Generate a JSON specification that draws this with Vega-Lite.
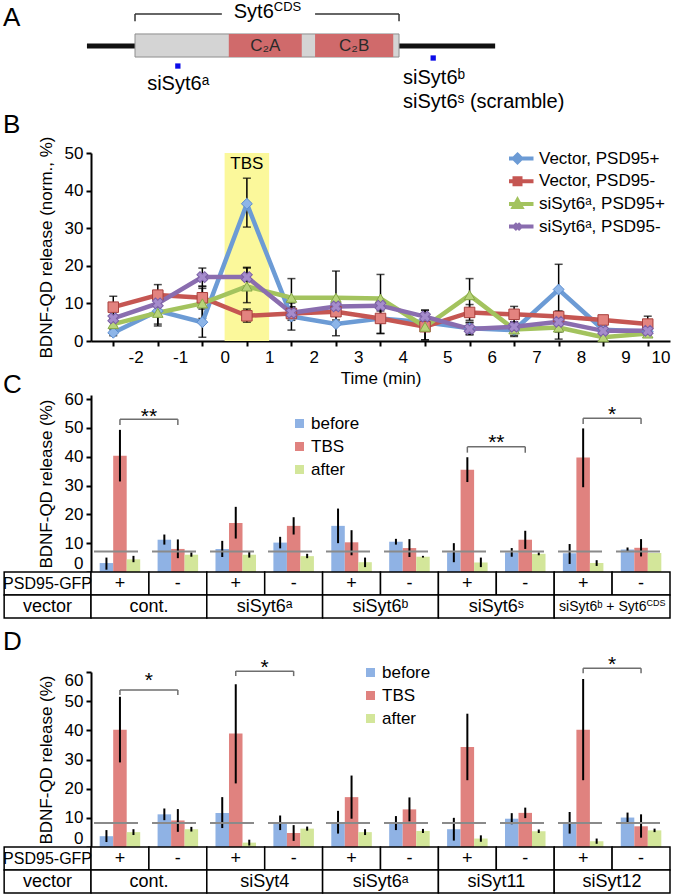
{
"$schema": "https://vega.github.io/schema/vega-lite/v6.json",
"background": "white",
"padding": {"left": 3, "top": 0, "right": 0, "bottom": 0},
"autosize": {"type": "pad"},
"bounds": "flush",
"spacing": 54,
"resolve": {"scale": {"color": "independent", "shape": "independent", "stroke": "independent"}, "legend": {"color": "independent", "shape": "independent", "stroke": "independent"}},
"config": {
 "font": "Liberation Sans",
 "view": {"stroke": null},
 "axis": {"grid": false, "domainColor": "black", "domainWidth": 2, "tickColor": "black", "tickWidth": 2, "tickSize": 5, "labelColor": "black", "labelFontSize": 17, "labelFont": "Liberation Sans", "titleFont": "Liberation Sans", "titleFontSize": 17, "titleFontWeight": "normal", "titleColor": "black", "labelPadding": 3, "labelOverlap": false},
 "axisY": {"titlePadding": 9},
 "axisX": {"titlePadding": 5},
 "title": {"fontSize": 26, "fontWeight": "normal", "anchor": "start", "frame": "group", "dx": -88, "color": "black", "font": "Liberation Sans"},
 "legend": {"labelFontSize": 17, "labelColor": "black", "labelFont": "Liberation Sans"},
 "text": {"font": "Liberation Sans", "color": "black"}
},
"datasets": {
 "adata": [
  {"k": "line", "x": -0.7, "x2": 69.8, "y": 5.35, "y2": 5.35},
  {"k": "box", "x": 7.6, "x2": 53.2, "y": 4.24, "y2": 6.57},
  {"k": "dom", "x": 23.8, "x2": 36.4, "y": 4.24, "y2": 6.57, "xm": 30.1, "ym": 5.4, "t": "C₂A"},
  {"k": "dom", "x": 38.7, "x2": 52.2, "y": 4.24, "y2": 6.57, "xm": 45.45, "ym": 5.4, "t": "C₂B"},
  {"k": "br", "x": 7.6, "x2": 22.6, "y": 8.59, "y2": 8.59},
  {"k": "br", "x": 38.7, "x2": 53.2, "y": 8.59, "y2": 8.59},
  {"k": "br", "x": 7.6, "x2": 7.6, "y": 7.85, "y2": 8.59},
  {"k": "br", "x": 53.2, "x2": 53.2, "y": 7.85, "y2": 8.59},
  {"k": "cds", "xm": 31.57, "ym": 8.8, "t": "Syt6", "sup": "CDS"},
  {"k": "site", "x": 15.0, "y": 3.33},
  {"k": "site", "x": 59.1, "y": 4.14},
  {"k": "lab", "x": 9.7, "y": 0.91, "t": "siSyt6ᵃ"},
  {"k": "lab", "x": 53.9, "y": 1.52, "t": "siSyt6ᵇ"},
  {"k": "lab", "x": 53.9, "y": -0.91, "t": "siSyt6ˢ (scramble)"}
 ],
 "bdata": [
  {"s": "Vector, PSD95+", "t": -2.5, "v": 2.2, "lo": 1.4, "hi": 3.0},
  {"s": "Vector, PSD95+", "t": -1.5, "v": 8.0, "lo": 4.0, "hi": 12.0},
  {"s": "Vector, PSD95+", "t": -0.5, "v": 5.0, "lo": 1.0, "hi": 9.0},
  {"s": "Vector, PSD95+", "t": 0.5, "v": 36.5, "lo": 30.3, "hi": 43.3},
  {"s": "Vector, PSD95+", "t": 1.5, "v": 6.5, "lo": 2.9, "hi": 10.1},
  {"s": "Vector, PSD95+", "t": 2.5, "v": 4.5, "lo": 1.4, "hi": 7.6},
  {"s": "Vector, PSD95+", "t": 3.5, "v": 6.0, "lo": 2.0, "hi": 10.0},
  {"s": "Vector, PSD95+", "t": 4.5, "v": 5.0, "lo": 3.0, "hi": 7.0},
  {"s": "Vector, PSD95+", "t": 5.5, "v": 3.4, "lo": 1.8, "hi": 5.0},
  {"s": "Vector, PSD95+", "t": 6.5, "v": 2.9, "lo": 1.5, "hi": 4.3},
  {"s": "Vector, PSD95+", "t": 7.5, "v": 13.7, "lo": 0.5, "hi": 20.4},
  {"s": "Vector, PSD95+", "t": 8.5, "v": 3.0, "lo": 2.0, "hi": 4.0},
  {"s": "Vector, PSD95+", "t": 9.5, "v": 2.5, "lo": 1.5, "hi": 3.5},
  {"s": "Vector, PSD95-", "t": -2.5, "v": 9.0, "lo": 6.0, "hi": 11.9},
  {"s": "Vector, PSD95-", "t": -1.5, "v": 12.2, "lo": 9.4, "hi": 15.0},
  {"s": "Vector, PSD95-", "t": -0.5, "v": 11.5, "lo": 8.5, "hi": 14.5},
  {"s": "Vector, PSD95-", "t": 0.5, "v": 6.7, "lo": 5.0, "hi": 8.5},
  {"s": "Vector, PSD95-", "t": 1.5, "v": 7.3, "lo": 5.5, "hi": 9.1},
  {"s": "Vector, PSD95-", "t": 2.5, "v": 7.8, "lo": 5.6, "hi": 10.0},
  {"s": "Vector, PSD95-", "t": 3.5, "v": 6.0, "lo": 2.0, "hi": 10.0},
  {"s": "Vector, PSD95-", "t": 4.5, "v": 3.8, "lo": 0.3, "hi": 7.3},
  {"s": "Vector, PSD95-", "t": 5.5, "v": 7.6, "lo": 5.5, "hi": 9.7},
  {"s": "Vector, PSD95-", "t": 6.5, "v": 7.1, "lo": 5.0, "hi": 9.2},
  {"s": "Vector, PSD95-", "t": 7.5, "v": 6.5, "lo": 5.0, "hi": 8.0},
  {"s": "Vector, PSD95-", "t": 8.5, "v": 5.6, "lo": 4.5, "hi": 6.7},
  {"s": "Vector, PSD95-", "t": 9.5, "v": 4.5, "lo": 3.3, "hi": 6.6},
  {"s": "siSyt6ᵃ, PSD95+", "t": -2.5, "v": 4.5, "lo": 3.5, "hi": 5.5},
  {"s": "siSyt6ᵃ, PSD95+", "t": -1.5, "v": 7.5, "lo": 4.5, "hi": 10.5},
  {"s": "siSyt6ᵃ, PSD95+", "t": -0.5, "v": 10.0, "lo": 6.0, "hi": 14.0},
  {"s": "siSyt6ᵃ, PSD95+", "t": 0.5, "v": 14.5, "lo": 10.2, "hi": 19.6},
  {"s": "siSyt6ᵃ, PSD95+", "t": 1.5, "v": 11.5, "lo": 6.4, "hi": 16.6},
  {"s": "siSyt6ᵃ, PSD95+", "t": 2.5, "v": 11.5, "lo": 4.4, "hi": 18.6},
  {"s": "siSyt6ᵃ, PSD95+", "t": 3.5, "v": 11.3, "lo": 4.9, "hi": 17.7},
  {"s": "siSyt6ᵃ, PSD95+", "t": 4.5, "v": 3.8, "lo": 0.3, "hi": 8.2},
  {"s": "siSyt6ᵃ, PSD95+", "t": 5.5, "v": 12.2, "lo": 7.8, "hi": 16.6},
  {"s": "siSyt6ᵃ, PSD95+", "t": 6.5, "v": 3.1, "lo": 1.2, "hi": 5.0},
  {"s": "siSyt6ᵃ, PSD95+", "t": 7.5, "v": 3.6, "lo": 2.4, "hi": 4.8},
  {"s": "siSyt6ᵃ, PSD95+", "t": 8.5, "v": 1.0, "lo": 0.3, "hi": 1.7},
  {"s": "siSyt6ᵃ, PSD95+", "t": 9.5, "v": 2.0, "lo": 1.0, "hi": 3.0},
  {"s": "siSyt6ᵃ, PSD95-", "t": -2.5, "v": 6.0, "lo": 5.0, "hi": 7.0},
  {"s": "siSyt6ᵃ, PSD95-", "t": -1.5, "v": 10.0, "lo": 8.0, "hi": 12.0},
  {"s": "siSyt6ᵃ, PSD95-", "t": -0.5, "v": 17.0, "lo": 14.6, "hi": 19.4},
  {"s": "siSyt6ᵃ, PSD95-", "t": 0.5, "v": 17.0, "lo": 14.6, "hi": 19.4},
  {"s": "siSyt6ᵃ, PSD95-", "t": 1.5, "v": 7.5, "lo": 6.0, "hi": 9.0},
  {"s": "siSyt6ᵃ, PSD95-", "t": 2.5, "v": 9.2, "lo": 7.6, "hi": 10.8},
  {"s": "siSyt6ᵃ, PSD95-", "t": 3.5, "v": 9.4, "lo": 8.0, "hi": 10.8},
  {"s": "siSyt6ᵃ, PSD95-", "t": 4.5, "v": 6.5, "lo": 5.0, "hi": 8.2},
  {"s": "siSyt6ᵃ, PSD95-", "t": 5.5, "v": 3.2, "lo": 1.6, "hi": 4.8},
  {"s": "siSyt6ᵃ, PSD95-", "t": 6.5, "v": 3.8, "lo": 2.6, "hi": 5.0},
  {"s": "siSyt6ᵃ, PSD95-", "t": 7.5, "v": 5.1, "lo": 4.0, "hi": 6.2},
  {"s": "siSyt6ᵃ, PSD95-", "t": 8.5, "v": 2.7, "lo": 2.0, "hi": 3.4},
  {"s": "siSyt6ᵃ, PSD95-", "t": 9.5, "v": 2.7, "lo": 2.0, "hi": 3.4}
 ],
 "cbars": [
  {"grp": "g1", "phase": "before", "v": 3.1, "lo": 0.8, "hi": 5.0},
  {"grp": "g1", "phase": "TBS", "v": 40.3, "lo": 31.4, "hi": 49.3},
  {"grp": "g1", "phase": "after", "v": 4.4, "lo": 3.4, "hi": 5.6},
  {"grp": "g2", "phase": "before", "v": 11.2, "lo": 9.5, "hi": 13.0},
  {"grp": "g2", "phase": "TBS", "v": 8.0, "lo": 4.8, "hi": 11.3},
  {"grp": "g2", "phase": "after", "v": 6.0, "lo": 5.3, "hi": 6.8},
  {"grp": "g3", "phase": "before", "v": 8.0, "lo": 5.2, "hi": 10.8},
  {"grp": "g3", "phase": "TBS", "v": 17.0, "lo": 11.6, "hi": 22.6},
  {"grp": "g3", "phase": "after", "v": 6.0, "lo": 5.0, "hi": 7.0},
  {"grp": "g4", "phase": "before", "v": 10.2, "lo": 8.2, "hi": 12.2},
  {"grp": "g4", "phase": "TBS", "v": 16.0, "lo": 13.0, "hi": 19.0},
  {"grp": "g4", "phase": "after", "v": 5.5, "lo": 4.8, "hi": 6.3},
  {"grp": "g5", "phase": "before", "v": 16.0, "lo": 10.0, "hi": 22.0},
  {"grp": "g5", "phase": "TBS", "v": 10.3, "lo": 5.8, "hi": 14.5},
  {"grp": "g5", "phase": "after", "v": 3.4, "lo": 1.7, "hi": 5.0},
  {"grp": "g6", "phase": "before", "v": 10.5, "lo": 9.5, "hi": 11.5},
  {"grp": "g6", "phase": "TBS", "v": 8.3, "lo": 5.2, "hi": 11.4},
  {"grp": "g6", "phase": "after", "v": 5.3, "lo": 5.0, "hi": 5.6},
  {"grp": "g7", "phase": "before", "v": 6.8, "lo": 3.4, "hi": 10.0},
  {"grp": "g7", "phase": "TBS", "v": 35.5, "lo": 31.2, "hi": 39.8},
  {"grp": "g7", "phase": "after", "v": 3.3, "lo": 1.7, "hi": 5.0},
  {"grp": "g8", "phase": "before", "v": 6.8, "lo": 5.3, "hi": 8.3},
  {"grp": "g8", "phase": "TBS", "v": 11.2, "lo": 8.0, "hi": 14.3},
  {"grp": "g8", "phase": "after", "v": 6.3, "lo": 5.8, "hi": 6.8},
  {"grp": "g9", "phase": "before", "v": 6.5, "lo": 2.8, "hi": 9.7},
  {"grp": "g9", "phase": "TBS", "v": 39.7, "lo": 29.4, "hi": 49.8},
  {"grp": "g9", "phase": "after", "v": 3.1, "lo": 2.1, "hi": 4.1},
  {"grp": "g10", "phase": "before", "v": 7.8, "lo": 7.0, "hi": 8.5},
  {"grp": "g10", "phase": "TBS", "v": 8.4, "lo": 5.4, "hi": 11.4},
  {"grp": "g10", "phase": "after", "v": 6.6, "lo": 6.6, "hi": 6.6}
 ],
 "dbars": [
  {"grp": "g1", "phase": "before", "v": 3.7, "lo": 1.7, "hi": 5.8},
  {"grp": "g1", "phase": "TBS", "v": 40.2, "lo": 29.0, "hi": 51.5},
  {"grp": "g1", "phase": "after", "v": 5.1, "lo": 4.1, "hi": 6.1},
  {"grp": "g2", "phase": "before", "v": 11.2, "lo": 9.2, "hi": 13.2},
  {"grp": "g2", "phase": "TBS", "v": 9.1, "lo": 5.2, "hi": 13.0},
  {"grp": "g2", "phase": "after", "v": 6.1, "lo": 5.3, "hi": 6.9},
  {"grp": "g3", "phase": "before", "v": 11.7, "lo": 6.5, "hi": 17.1},
  {"grp": "g3", "phase": "TBS", "v": 38.9, "lo": 21.8, "hi": 55.8},
  {"grp": "g3", "phase": "after", "v": 1.5, "lo": 0.5, "hi": 2.5},
  {"grp": "g4", "phase": "before", "v": 8.2, "lo": 5.8, "hi": 10.8},
  {"grp": "g4", "phase": "TBS", "v": 4.8, "lo": 2.1, "hi": 7.5},
  {"grp": "g4", "phase": "after", "v": 6.3, "lo": 5.6, "hi": 7.0},
  {"grp": "g5", "phase": "before", "v": 8.1, "lo": 4.6, "hi": 12.4},
  {"grp": "g5", "phase": "TBS", "v": 17.1, "lo": 9.7, "hi": 24.5},
  {"grp": "g5", "phase": "after", "v": 5.1, "lo": 4.1, "hi": 6.1},
  {"grp": "g6", "phase": "before", "v": 8.2, "lo": 5.8, "hi": 10.6},
  {"grp": "g6", "phase": "TBS", "v": 12.9, "lo": 8.8, "hi": 17.0},
  {"grp": "g6", "phase": "after", "v": 5.5, "lo": 4.8, "hi": 6.2},
  {"grp": "g7", "phase": "before", "v": 6.1, "lo": 2.2, "hi": 10.0},
  {"grp": "g7", "phase": "TBS", "v": 34.3, "lo": 22.9, "hi": 45.7},
  {"grp": "g7", "phase": "after", "v": 2.9, "lo": 1.8, "hi": 4.0},
  {"grp": "g8", "phase": "before", "v": 9.7, "lo": 7.8, "hi": 11.6},
  {"grp": "g8", "phase": "TBS", "v": 11.7, "lo": 9.9, "hi": 13.5},
  {"grp": "g8", "phase": "after", "v": 5.4, "lo": 4.8, "hi": 6.0},
  {"grp": "g9", "phase": "before", "v": 8.2, "lo": 4.6, "hi": 12.0},
  {"grp": "g9", "phase": "TBS", "v": 40.2, "lo": 22.9, "hi": 57.6},
  {"grp": "g9", "phase": "after", "v": 2.0, "lo": 1.1, "hi": 2.9},
  {"grp": "g10", "phase": "before", "v": 10.1, "lo": 8.4, "hi": 11.8},
  {"grp": "g10", "phase": "TBS", "v": 7.1, "lo": 3.2, "hi": 11.2},
  {"grp": "g10", "phase": "after", "v": 5.7, "lo": 5.1, "hi": 6.3}
 ],
 "cbr": [
  {"x1": 0.5, "x2": 1.5, "xm": 1, "y": 53.0, "yb": 51.0, "ys": 53.9, "txt": "**"},
  {"x1": 6.5, "x2": 7.5, "xm": 7, "y": 43.4, "yb": 41.4, "ys": 44.8, "txt": "**"},
  {"x1": 8.5, "x2": 9.5, "xm": 9, "y": 53.3, "yb": 51.3, "ys": 54.6, "txt": "*"}
 ],
 "dbr": [
  {"x1": 0.5, "x2": 1.5, "xm": 1, "y": 53.8, "yb": 52.1, "ys": 56.8, "txt": "*"},
  {"x1": 2.5, "x2": 3.5, "xm": 3, "y": 60.3, "yb": 58.6, "ys": 61.5, "txt": "*"},
  {"x1": 8.5, "x2": 9.5, "xm": 9, "y": 61.3, "yb": 59.6, "ys": 62.5, "txt": "*"}
 ],
 "ctable": [
  {"row": "gfp", "start": -1.5, "end": 0, "mid": -0.75, "text": "PSD95-GFP", "kind": "hdr1"},
  {"row": "vec", "start": -1.5, "end": 0, "mid": -0.75, "text": "vector", "kind": "std"},
  {"row": "gfp", "start": 0, "end": 1, "mid": 0.5, "text": "+", "kind": "std"},
  {"row": "gfp", "start": 1, "end": 2, "mid": 1.5, "text": "-", "kind": "std"},
  {"row": "gfp", "start": 2, "end": 3, "mid": 2.5, "text": "+", "kind": "std"},
  {"row": "gfp", "start": 3, "end": 4, "mid": 3.5, "text": "-", "kind": "std"},
  {"row": "gfp", "start": 4, "end": 5, "mid": 4.5, "text": "+", "kind": "std"},
  {"row": "gfp", "start": 5, "end": 6, "mid": 5.5, "text": "-", "kind": "std"},
  {"row": "gfp", "start": 6, "end": 7, "mid": 6.5, "text": "+", "kind": "std"},
  {"row": "gfp", "start": 7, "end": 8, "mid": 7.5, "text": "-", "kind": "std"},
  {"row": "gfp", "start": 8, "end": 9, "mid": 8.5, "text": "+", "kind": "std"},
  {"row": "gfp", "start": 9, "end": 10, "mid": 9.5, "text": "-", "kind": "std"},
  {"row": "vec", "start": 0, "end": 2, "mid": 1, "text": "cont.", "kind": "std"},
  {"row": "vec", "start": 2, "end": 4, "mid": 3, "text": "siSyt6ᵃ", "kind": "std"},
  {"row": "vec", "start": 4, "end": 6, "mid": 5, "text": "siSyt6ᵇ", "kind": "std"},
  {"row": "vec", "start": 6, "end": 8, "mid": 7, "text": "siSyt6ˢ", "kind": "std"},
  {"row": "vec", "start": 8, "end": 10, "mid": 9.593, "text": "siSyt6ᵇ + Syt6", "sup": "CDS", "kind": "long"}
 ],
 "dtable": [
  {"row": "gfp", "start": -1.5, "end": 0, "mid": -0.75, "text": "PSD95-GFP", "kind": "hdr1"},
  {"row": "vec", "start": -1.5, "end": 0, "mid": -0.75, "text": "vector", "kind": "std"},
  {"row": "gfp", "start": 0, "end": 1, "mid": 0.5, "text": "+", "kind": "std"},
  {"row": "gfp", "start": 1, "end": 2, "mid": 1.5, "text": "-", "kind": "std"},
  {"row": "gfp", "start": 2, "end": 3, "mid": 2.5, "text": "+", "kind": "std"},
  {"row": "gfp", "start": 3, "end": 4, "mid": 3.5, "text": "-", "kind": "std"},
  {"row": "gfp", "start": 4, "end": 5, "mid": 4.5, "text": "+", "kind": "std"},
  {"row": "gfp", "start": 5, "end": 6, "mid": 5.5, "text": "-", "kind": "std"},
  {"row": "gfp", "start": 6, "end": 7, "mid": 6.5, "text": "+", "kind": "std"},
  {"row": "gfp", "start": 7, "end": 8, "mid": 7.5, "text": "-", "kind": "std"},
  {"row": "gfp", "start": 8, "end": 9, "mid": 8.5, "text": "+", "kind": "std"},
  {"row": "gfp", "start": 9, "end": 10, "mid": 9.5, "text": "-", "kind": "std"},
  {"row": "vec", "start": 0, "end": 2, "mid": 1, "text": "cont.", "kind": "std"},
  {"row": "vec", "start": 2, "end": 4, "mid": 3, "text": "siSyt4", "kind": "std"},
  {"row": "vec", "start": 4, "end": 6, "mid": 5, "text": "siSyt6ᵃ", "kind": "std"},
  {"row": "vec", "start": 6, "end": 8, "mid": 7, "text": "siSyt11", "kind": "std"},
  {"row": "vec", "start": 8, "end": 10, "mid": 9, "text": "siSyt12", "kind": "std"}
 ]
},
"vconcat": [
 {
  "width": 579, "height": 99,
  "title": {"text": "A", "offset": -31},
  "data": {"name": "adata"},
  "layer": [
   {"transform": [{"filter": "datum.k == 'line'"}], "mark": {"type": "rule", "color": "#111111", "strokeWidth": 5},
    "encoding": {"x": {"field": "x", "type": "quantitative", "scale": {"domain": [0, 100], "nice": false, "zero": false}, "axis": null}, "x2": {"field": "x2"},
                 "y": {"field": "y", "type": "quantitative", "scale": {"domain": [0, 10], "nice": false, "zero": false}, "axis": null}, "y2": {"field": "y2"}}},
   {"transform": [{"filter": "datum.k == 'box'"}], "mark": {"type": "rect", "fill": "#D4D4D4", "stroke": "#8E8E8E", "strokeWidth": 1},
    "encoding": {"x": {"field": "x", "type": "quantitative", "axis": null}, "x2": {"field": "x2"}, "y": {"field": "y", "type": "quantitative", "axis": null}, "y2": {"field": "y2"}}},
   {"transform": [{"filter": "datum.k == 'dom'"}], "mark": {"type": "rect", "fill": "#D06A6B"},
    "encoding": {"x": {"field": "x", "type": "quantitative", "axis": null}, "x2": {"field": "x2"}, "y": {"field": "y", "type": "quantitative", "axis": null}, "y2": {"field": "y2"}}},
   {"transform": [{"filter": "datum.k == 'dom'"}], "mark": {"type": "text", "fontSize": 17, "color": "#2A2A2A", "baseline": "middle"},
    "encoding": {"x": {"field": "xm", "type": "quantitative", "axis": null}, "y": {"field": "ym", "type": "quantitative", "axis": null}, "text": {"field": "t"}}},
   {"transform": [{"filter": "datum.k == 'br'"}], "mark": {"type": "rule", "color": "#333333", "strokeWidth": 1.5},
    "encoding": {"x": {"field": "x", "type": "quantitative", "axis": null}, "x2": {"field": "x2"}, "y": {"field": "y", "type": "quantitative", "axis": null}, "y2": {"field": "y2"}}},
   {"transform": [{"filter": "datum.k == 'cds'"}], "mark": {"type": "text", "fontSize": 20, "baseline": "middle", "align": "right"},
    "encoding": {"x": {"field": "xm", "type": "quantitative", "axis": null}, "y": {"field": "ym", "type": "quantitative", "axis": null}, "text": {"field": "t"}}},
   {"transform": [{"filter": "datum.k == 'cds'"}], "mark": {"type": "text", "fontSize": 13, "baseline": "middle", "align": "left", "dy": -5},
    "encoding": {"x": {"field": "xm", "type": "quantitative", "axis": null}, "y": {"field": "ym", "type": "quantitative", "axis": null}, "text": {"field": "sup"}}},
   {"transform": [{"filter": "datum.k == 'site'"}], "mark": {"type": "point", "shape": "square", "filled": true, "size": 28, "color": "#0B0BE8", "opacity": 1},
    "encoding": {"x": {"field": "x", "type": "quantitative", "axis": null}, "y": {"field": "y", "type": "quantitative", "axis": null}}},
   {"transform": [{"filter": "datum.k == 'lab'"}], "mark": {"type": "text", "fontSize": 20, "align": "left", "baseline": "alphabetic"},
    "encoding": {"x": {"field": "x", "type": "quantitative", "axis": null}, "y": {"field": "y", "type": "quantitative", "axis": null}, "text": {"field": "t"}}}
  ]
 },
 {
  "width": 579, "height": 188,
  "title": {"text": "B", "offset": -2},
  "data": {"name": "bdata"},
  "layer": [
   {"data": {"values": [{"t": 0, "t2": 1, "v": 0, "v2": 50, "tm": 0.5, "label": "TBS"}]},
    "mark": {"type": "rect", "fill": "#FBF89B"},
    "encoding": {
     "x": {"field": "t", "type": "quantitative", "title": "Time (min)", "scale": {"domain": [-3, 10], "nice": false, "zero": false}, "axis": {"values": [-2, -1, 0, 1, 2, 3, 4, 5, 6, 7, 8, 9, 10], "tickCount": 20, "tickOffset": -22.27, "labelOffset": 22.27, "labelExpr": "datum.value + ''"}},
     "x2": {"field": "t2"},
     "y": {"field": "v", "type": "quantitative", "title": "BDNF-QD release (norm., %)", "scale": {"domain": [0, 50], "nice": false, "zero": false}, "axis": {"values": [0, 10, 20, 30, 40, 50], "tickCount": 20}},
     "y2": {"field": "v2"}}},
   {"data": {"values": [{"t": 0, "t2": 1, "v": 0, "v2": 50, "tm": 0.5, "label": "TBS"}]},
    "mark": {"type": "text", "fontSize": 17, "baseline": "top", "dy": 3},
    "encoding": {"x": {"field": "tm", "type": "quantitative", "title": "Time (min)"}, "y": {"field": "v2", "type": "quantitative", "title": "BDNF-QD release (norm., %)"}, "text": {"field": "label"}}},
   {"mark": {"type": "errorbar", "ticks": {"size": 8, "thickness": 1.5, "color": "black"}, "rule": {"strokeWidth": 1.5, "color": "black"}, "color": "black"},
    "encoding": {"x": {"field": "t", "type": "quantitative", "title": "Time (min)"}, "y": {"field": "lo", "type": "quantitative", "title": "BDNF-QD release (norm., %)"}, "y2": {"field": "hi"}}},
   {"mark": {"type": "line", "strokeWidth": 4.5},
    "encoding": {"x": {"field": "t", "type": "quantitative", "title": "Time (min)"}, "y": {"field": "v", "type": "quantitative", "title": "BDNF-QD release (norm., %)"},
     "stroke": {"field": "s", "type": "nominal", "scale": {"domain": ["Vector, PSD95+", "Vector, PSD95-", "siSyt6ᵃ, PSD95+", "siSyt6ᵃ, PSD95-"], "range": ["#6C9BD5", "#C55652", "#A3C35E", "#8A6DAF"]},
      "legend": {"orient": "none", "legendX": 418, "legendY": -3, "title": null, "symbolSize": 100, "symbolStrokeWidth": 4, "labelOffset": 13, "rowPadding": 4.7, "clipHeight": 17, "labelFontSize": 17,
       "encode": {"symbols": {"update": {"shape": {"signal": "datum.value === 'Vector, PSD95+' ? 'M-3.2,0L3.2,0M0,-0.75L0.75,0L0,0.75L-0.75,0Z' : datum.value === 'Vector, PSD95-' ? 'M-3.2,0L3.2,0M-0.6,-0.6L0.6,-0.6L0.6,0.6L-0.6,0.6Z' : datum.value === 'siSyt6ᵃ, PSD95+' ? 'M-3.2,0L3.2,0M0,-0.75L0.75,0.6L-0.75,0.6Z' : 'M-3.2,0L3.2,0M-0.6,-0.6L0.6,0.6M-0.6,0.6L0.6,-0.6'"}, "strokeWidth": {"value": 4}}}}}}}},
   {"transform": [{"filter": "datum.s == 'Vector, PSD95+'"}], "mark": {"type": "point", "shape": "diamond", "filled": true, "size": 120, "fill": "#8DB5E8", "stroke": "#5A8CCF", "strokeWidth": 1, "opacity": 1},
    "encoding": {"x": {"field": "t", "type": "quantitative", "title": "Time (min)"}, "y": {"field": "v", "type": "quantitative", "title": "BDNF-QD release (norm., %)"}}},
   {"transform": [{"filter": "datum.s == 'Vector, PSD95-'"}], "mark": {"type": "point", "shape": "square", "filled": true, "size": 110, "fill": "#E3837F", "stroke": "#A8403D", "strokeWidth": 1, "opacity": 1},
    "encoding": {"x": {"field": "t", "type": "quantitative", "title": "Time (min)"}, "y": {"field": "v", "type": "quantitative", "title": "BDNF-QD release (norm., %)"}}},
   {"transform": [{"filter": "datum.s == 'siSyt6ᵃ, PSD95+'"}], "mark": {"type": "point", "shape": "triangle-up", "filled": true, "size": 110, "fill": "#B8D47A", "stroke": "#86A846", "strokeWidth": 1, "opacity": 1},
    "encoding": {"x": {"field": "t", "type": "quantitative", "title": "Time (min)"}, "y": {"field": "v", "type": "quantitative", "title": "BDNF-QD release (norm., %)"}}},
   {"transform": [{"filter": "datum.s == 'siSyt6ᵃ, PSD95-'"}], "mark": {"type": "point", "shape": "cross", "angle": 45, "filled": true, "size": 120, "fill": "#A58CCC", "stroke": "#7B60A6", "strokeWidth": 1, "opacity": 1},
    "encoding": {"x": {"field": "t", "type": "quantitative", "title": "Time (min)"}, "y": {"field": "v", "type": "quantitative", "title": "BDNF-QD release (norm., %)"}}}
  ]
 },
 {
  "width": 579, "height": 223,
  "title": {"text": "C", "offset": -8},
  "layer": [
   {
    "layer": [
     {
      "data": {"name": "cbars"},
      "encoding": {
       "x": {"field": "grp", "type": "nominal", "scale": {"domain": ["g1","g2","g3","g4","g5","g6","g7","g8","g9","g10"], "paddingInner": 0.3, "paddingOuter": 0.15}, "axis": null},
       "xOffset": {"field": "phase", "type": "nominal", "scale": {"domain": ["before", "TBS", "after"]}}
      },
      "layer": [
       {"mark": {"type": "bar"},
        "encoding": {"y": {"field": "v", "type": "quantitative", "title": "BDNF-QD release (%)", "scale": {"domain": [0, 61.39], "range": [177, 0], "nice": false, "zero": false}, "axis": {"values": [0, 10, 20, 30, 40, 50, 60], "tickCount": 20, "labelFlush": true}},
         "color": {"field": "phase", "type": "nominal", "scale": {"domain": ["before", "TBS", "after"], "range": ["#8FB2E4", "#E0827F", "#D3E69A"]},
          "legend": {"orient": "none", "legendX": 200, "legendY": 20, "title": null, "symbolType": "square", "symbolSize": 81, "labelOffset": 3, "rowPadding": 5, "labelFontSize": 17}}}},
       {"mark": {"type": "rule", "color": "black", "strokeWidth": 2},
        "encoding": {"y": {"field": "lo", "type": "quantitative", "title": "BDNF-QD release (%)"}, "y2": {"field": "hi"}}}
      ]
     },
     {
      "data": {"values": [{"ref": 7.1}]},
      "mark": {"type": "rule", "color": "#8A8A8A", "strokeWidth": 2, "strokeDash": [44, 14], "strokeDashOffset": 48},
      "encoding": {"y": {"field": "ref", "type": "quantitative", "title": "BDNF-QD release (%)"}}
     },
     {
      "data": {"name": "cbr"},
      "layer": [
       {"mark": {"type": "rule", "color": "#6E6E6E", "strokeWidth": 1.5},
        "encoding": {"x": {"field": "x1", "type": "quantitative", "scale": {"domain": [0, 10], "nice": false, "zero": false}, "axis": null}, "x2": {"field": "x2"}, "y": {"field": "y", "type": "quantitative", "title": "BDNF-QD release (%)"}}},
       {"mark": {"type": "rule", "color": "#6E6E6E", "strokeWidth": 1.5},
        "encoding": {"x": {"field": "x1", "type": "quantitative", "axis": null}, "y": {"field": "yb", "type": "quantitative", "title": "BDNF-QD release (%)"}, "y2": {"field": "y"}}},
       {"mark": {"type": "rule", "color": "#6E6E6E", "strokeWidth": 1.5},
        "encoding": {"x": {"field": "x2", "type": "quantitative", "axis": null}, "y": {"field": "yb", "type": "quantitative", "title": "BDNF-QD release (%)"}, "y2": {"field": "y"}}},
       {"mark": {"type": "text", "fontSize": 21, "baseline": "middle"},
        "encoding": {"x": {"field": "xm", "type": "quantitative", "axis": null}, "y": {"field": "ys", "type": "quantitative", "title": "BDNF-QD release (%)"}, "text": {"field": "txt"}}}
      ]
     }
    ],
    "resolve": {"scale": {"x": "independent"}}
   },
   {
    "data": {"name": "ctable"},
    "encoding": {"y": {"field": "row", "type": "nominal", "scale": {"domain": ["gfp", "vec"], "range": [177, 223], "paddingInner": 0, "paddingOuter": 0}, "axis": null}},
    "layer": [
     {"mark": {"type": "rect", "fill": "white", "stroke": "black", "strokeWidth": 1.5},
      "encoding": {"x": {"field": "start", "type": "quantitative", "scale": {"domain": [0, 10], "nice": false, "zero": false}, "axis": null}, "x2": {"field": "end"}}},
     {"transform": [{"filter": "datum.kind == 'std'"}], "mark": {"type": "text", "fontSize": 18, "baseline": "middle"},
      "encoding": {"x": {"field": "mid", "type": "quantitative", "axis": null}, "text": {"field": "text"}}},
     {"transform": [{"filter": "datum.kind == 'hdr1'"}], "mark": {"type": "text", "fontSize": 16, "baseline": "middle"},
      "encoding": {"x": {"field": "mid", "type": "quantitative", "axis": null}, "text": {"field": "text"}}},
     {"transform": [{"filter": "datum.kind == 'long'"}], "mark": {"type": "text", "fontSize": 14, "baseline": "middle", "align": "right"},
      "encoding": {"x": {"field": "mid", "type": "quantitative", "axis": null}, "text": {"field": "text"}}},
     {"transform": [{"filter": "datum.kind == 'long'"}], "mark": {"type": "text", "fontSize": 9, "baseline": "middle", "align": "left", "dy": -4},
      "encoding": {"x": {"field": "mid", "type": "quantitative", "axis": null}, "text": {"field": "sup"}}}
    ]
   }
  ],
  "resolve": {"scale": {"x": "independent", "y": "independent"}}
 },
 {
  "width": 579, "height": 221,
  "title": {"text": "D", "offset": -1},
  "layer": [
   {
    "layer": [
     {
      "data": {"name": "dbars"},
      "encoding": {
       "x": {"field": "grp", "type": "nominal", "scale": {"domain": ["g1","g2","g3","g4","g5","g6","g7","g8","g9","g10"], "paddingInner": 0.3, "paddingOuter": 0.15}, "axis": null},
       "xOffset": {"field": "phase", "type": "nominal", "scale": {"domain": ["before", "TBS", "after"]}}
      },
      "layer": [
       {"mark": {"type": "bar"},
        "encoding": {"y": {"field": "v", "type": "quantitative", "title": "BDNF-QD release (%)", "scale": {"domain": [0, 60], "range": [175, 0], "nice": false, "zero": false}, "axis": {"values": [0, 10, 20, 30, 40, 50, 60], "tickCount": 20, "labelFlush": true}},
         "color": {"field": "phase", "type": "nominal", "scale": {"domain": ["before", "TBS", "after"], "range": ["#8FB2E4", "#E0827F", "#D3E69A"]},
          "legend": {"orient": "none", "legendX": 271, "legendY": -8, "title": null, "symbolType": "square", "symbolSize": 81, "labelOffset": 3, "rowPadding": 5, "labelFontSize": 17}}}},
       {"mark": {"type": "rule", "color": "black", "strokeWidth": 2},
        "encoding": {"y": {"field": "lo", "type": "quantitative", "title": "BDNF-QD release (%)"}, "y2": {"field": "hi"}}}
      ]
     },
     {
      "data": {"values": [{"ref": 8.2}]},
      "mark": {"type": "rule", "color": "#8A8A8A", "strokeWidth": 2, "strokeDash": [44, 14], "strokeDashOffset": 48},
      "encoding": {"y": {"field": "ref", "type": "quantitative", "title": "BDNF-QD release (%)"}}
     },
     {
      "data": {"name": "dbr"},
      "layer": [
       {"mark": {"type": "rule", "color": "#6E6E6E", "strokeWidth": 1.5},
        "encoding": {"x": {"field": "x1", "type": "quantitative", "scale": {"domain": [0, 10], "nice": false, "zero": false}, "axis": null}, "x2": {"field": "x2"}, "y": {"field": "y", "type": "quantitative", "title": "BDNF-QD release (%)"}}},
       {"mark": {"type": "rule", "color": "#6E6E6E", "strokeWidth": 1.5},
        "encoding": {"x": {"field": "x1", "type": "quantitative", "axis": null}, "y": {"field": "yb", "type": "quantitative", "title": "BDNF-QD release (%)"}, "y2": {"field": "y"}}},
       {"mark": {"type": "rule", "color": "#6E6E6E", "strokeWidth": 1.5},
        "encoding": {"x": {"field": "x2", "type": "quantitative", "axis": null}, "y": {"field": "yb", "type": "quantitative", "title": "BDNF-QD release (%)"}, "y2": {"field": "y"}}},
       {"mark": {"type": "text", "fontSize": 21, "baseline": "middle"},
        "encoding": {"x": {"field": "xm", "type": "quantitative", "axis": null}, "y": {"field": "ys", "type": "quantitative", "title": "BDNF-QD release (%)"}, "text": {"field": "txt"}}}
      ]
     }
    ],
    "resolve": {"scale": {"x": "independent"}}
   },
   {
    "data": {"name": "dtable"},
    "encoding": {"y": {"field": "row", "type": "nominal", "scale": {"domain": ["gfp", "vec"], "range": [175, 221], "paddingInner": 0, "paddingOuter": 0}, "axis": null}},
    "layer": [
     {"mark": {"type": "rect", "fill": "white", "stroke": "black", "strokeWidth": 1.5},
      "encoding": {"x": {"field": "start", "type": "quantitative", "scale": {"domain": [0, 10], "nice": false, "zero": false}, "axis": null}, "x2": {"field": "end"}}},
     {"transform": [{"filter": "datum.kind == 'std'"}], "mark": {"type": "text", "fontSize": 18, "baseline": "middle"},
      "encoding": {"x": {"field": "mid", "type": "quantitative", "axis": null}, "text": {"field": "text"}}},
     {"transform": [{"filter": "datum.kind == 'hdr1'"}], "mark": {"type": "text", "fontSize": 16, "baseline": "middle"},
      "encoding": {"x": {"field": "mid", "type": "quantitative", "axis": null}, "text": {"field": "text"}}}
    ]
   }
  ],
  "resolve": {"scale": {"x": "independent", "y": "independent"}}
 }
]
}
